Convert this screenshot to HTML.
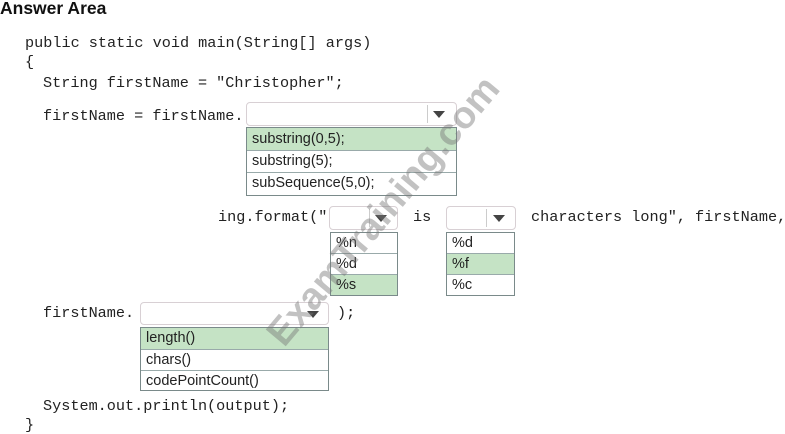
<!DOCTYPE html>
<html><head><style>
body{margin:0;width:785px;height:434px;background:#fff;position:relative;overflow:hidden;font-family:"Liberation Sans",sans-serif}
.m{position:absolute;font-family:"Liberation Mono",monospace;font-size:15.2px;color:#222;line-height:18px;white-space:pre}
.dd{position:absolute;border:1px solid #d8d0d4;border-radius:4px;background:#fff;box-sizing:border-box}
.dd .dv{position:absolute;top:2px;bottom:2px;width:1px;background:#ccc}
.dd .ar{position:absolute;top:8px;width:0;height:0;border-left:6px solid transparent;border-right:6px solid transparent;border-top:7px solid #444}
.ls{position:absolute;border:1px solid #7a8a8a;box-sizing:border-box;background:#fff}
.ls div{box-sizing:border-box;border-bottom:1px solid #9aa;font-size:14.5px;color:#222;padding-left:5px;overflow:hidden;white-space:nowrap}
.ls div:last-child{border-bottom:none}
.g{background:#c5e3c5}
.wm{position:absolute;left:215px;top:190px;font:bold 38px "Liberation Sans",sans-serif;color:rgba(120,120,120,0.45);transform:rotate(-50deg);transform-origin:center;white-space:nowrap}
</style></head><body>
<div style="position:absolute;left:0;top:-2px;font-weight:bold;font-size:17.5px;color:#111">Answer Area</div>
<div class="m" style="left:25px;top:34px">public static void main(String[] args)</div>
<div class="m" style="left:25px;top:53px">{</div>
<div class="m" style="left:43px;top:74px">String firstName = "Christopher";</div>
<div class="m" style="left:43px;top:107px">firstName = firstName.</div>
<div class="dd" style="left:246px;top:102px;width:211px;height:24px"><div class="dv" style="left:180px"></div><div class="ar" style="left:186px"></div></div>
<div class="ls" style="left:246px;top:127px;width:211px;height:69px">
<div class="g" style="height:23px;line-height:22px">substring(0,5);</div>
<div style="height:22px;line-height:21px">substring(5);</div>
<div style="height:22px;line-height:21px">subSequence(5,0);</div></div>

<div class="m" style="left:218px;top:208px">ing.format("</div>
<div class="dd" style="left:329px;top:206px;width:69px;height:24px"><div class="dv" style="left:39px"></div><div class="ar" style="left:45px"></div></div>
<div class="m" style="left:413px;top:208px">is</div>
<div class="dd" style="left:446px;top:206px;width:70px;height:24px"><div class="dv" style="left:39px"></div><div class="ar" style="left:46px"></div></div>
<div class="m" style="left:531px;top:208px">characters long", firstName,</div>
<div class="ls" style="left:330px;top:232px;width:68px;height:64px">
<div style="height:21px;line-height:20px">%n</div>
<div style="height:21px;line-height:20px">%d</div>
<div class="g" style="height:20px;line-height:20px">%s</div></div>
<div class="ls" style="left:446px;top:232px;width:69px;height:64px">
<div style="height:21px;line-height:20px">%d</div>
<div class="g" style="height:21px;line-height:20px">%f</div>
<div style="height:20px;line-height:20px">%c</div></div>

<div class="m" style="left:43px;top:304px">firstName.</div>
<div class="dd" style="left:140px;top:302px;width:189px;height:23px"><div class="ar" style="left:166px"></div></div>
<div class="m" style="left:337px;top:304px">);</div>
<div class="ls" style="left:140px;top:327px;width:189px;height:64px">
<div class="g" style="height:22px;line-height:21px">length()</div>
<div style="height:21px;line-height:20px">chars()</div>
<div style="height:20px;line-height:20px">codePointCount()</div></div>

<div class="m" style="left:43px;top:397px">System.out.println(output);</div>
<div class="m" style="left:25px;top:416px">}</div>
<div class="wm">ExamTraining.com</div>
</body></html>
